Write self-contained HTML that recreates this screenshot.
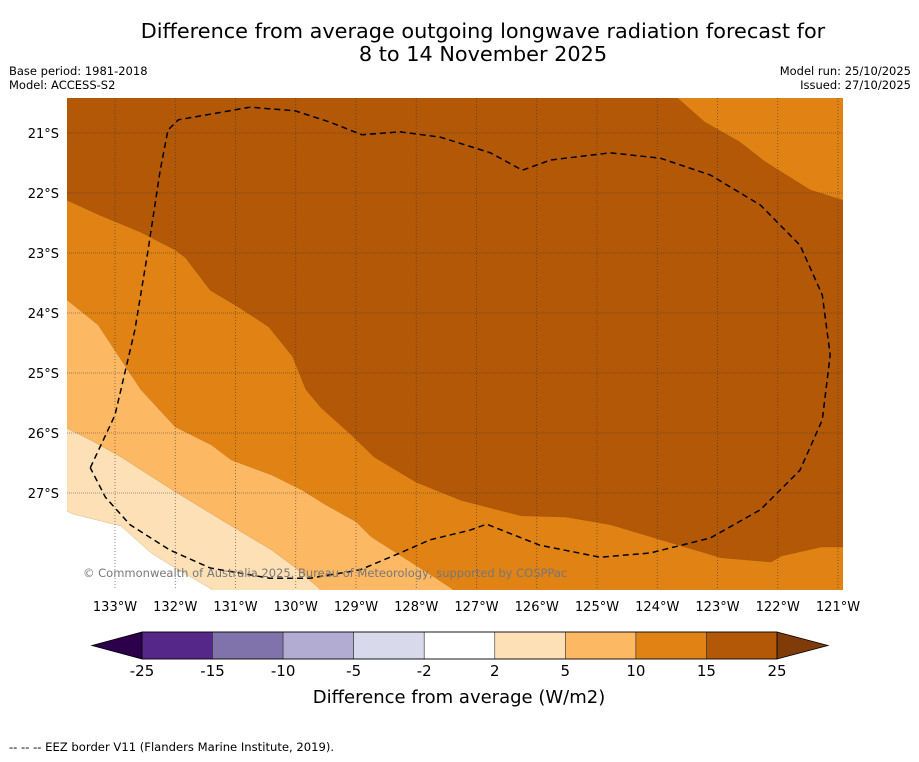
<!DOCTYPE html>
<html><head><meta charset="utf-8">
<style>
body{margin:0;background:#fff;width:919px;height:758px;overflow:hidden;font-family:"DejaVu Sans","Liberation Sans",sans-serif;}
svg text{font-family:"DejaVu Sans","Liberation Sans",sans-serif;}
</style></head>
<body>
<svg id="chart" width="919" height="758" xmlns="http://www.w3.org/2000/svg">
<text x="483" y="38" font-size="20.8" text-anchor="middle">Difference from average outgoing longwave radiation forecast for</text>
<text x="483" y="61" font-size="20.8" text-anchor="middle">8 to 14 November 2025</text>
<text x="9" y="75" font-size="11.5">Base period: 1981-2018</text>
<text x="9" y="89" font-size="11.5">Model: ACCESS-S2</text>
<text x="911" y="75" font-size="11.5" text-anchor="end">Model run: 25/10/2025</text>
<text x="911" y="89" font-size="11.5" text-anchor="end">Issued: 27/10/2025</text>
<defs><clipPath id="mapclip"><rect x="67" y="98" width="776" height="492"/></clipPath></defs>
<rect x="67" y="98" width="776" height="492" fill="#ffffff"/>
<g id="fills" clip-path="url(#mapclip)"></g>
<g id="grid" clip-path="url(#mapclip)"></g>
<g id="eez" clip-path="url(#mapclip)"></g>
<text x="83" y="577" font-size="11.5" fill="#777">© Commonwealth of Australia 2025, Bureau of Meteorology, supported by COSPPac</text>
<g id="axes"></g>
<g id="colorbar"></g>
<text x="459" y="703" font-size="18" text-anchor="middle">Difference from average (W/m2)</text>
<text x="9" y="751" font-size="11.6">--  --  -- EEZ border V11 (Flanders Marine Institute, 2019).</text>
</svg>
<script>
// ---- data ----
const lonTicks=[-133,-132,-131,-130,-129,-128,-127,-126,-125,-124,-123,-122,-121];
const lonLabels=["133°W","132°W","131°W","130°W","129°W","128°W","127°W","126°W","125°W","124°W","123°W","122°W","121°W"];
const latTicks=[-21,-22,-23,-24,-25,-26,-27];
const latLabels=["21°S","22°S","23°S","24°S","25°S","26°S","27°S"];
const cbLevels=["-25","-15","-10","-5","-2","2","5","10","15","25"];
const cbColors=["#542788","#8073ac","#b2abd2","#d8daeb","#ffffff","#fee0b6","#fdb863","#e08214","#b35806"];
// contour boundaries [lon, lat]
const edge2=[[-133.8,-27.3],[-133.7,-27.35],[-132.9,-27.55],[-132.4,-28.0],[-132.0,-28.25],[-131.4,-28.6]];
const edge5=[[-133.8,-25.92],[-133.4,-26.12],[-132.9,-26.4],[-132.0,-26.98],[-131.1,-27.53],[-130.4,-27.95],[-130.0,-28.25],[-129.6,-28.6]];
const edge10=[[-133.8,-23.78],[-133.28,-24.2],[-132.9,-24.78],[-132.57,-25.28],[-132.0,-25.9],[-131.4,-26.2],[-131.07,-26.45],[-130.4,-26.7],[-129.9,-26.95],[-129.5,-27.2],[-129.0,-27.48],[-128.75,-27.73],[-128.25,-28.05],[-127.75,-28.37],[-127.4,-28.6]];
const edge15=[[-133.8,-22.12],[-133.25,-22.37],[-132.58,-22.65],[-132.0,-22.95],[-131.83,-23.08],[-131.42,-23.62],[-130.92,-23.92],[-130.45,-24.23],[-130.05,-24.73],[-129.83,-25.28],[-129.58,-25.58],[-129.08,-26.03],[-128.7,-26.4],[-128.0,-26.82],[-127.26,-27.12],[-126.26,-27.38],[-125.52,-27.4],[-124.77,-27.53],[-123.94,-27.78],[-122.94,-28.08],[-122.11,-28.15],[-121.94,-28.05],[-121.28,-27.9],[-120.9,-27.9]];
const edge15top=[[-123.66,-20.42],[-123.21,-20.82],[-122.63,-21.15],[-122.21,-21.48],[-121.46,-21.95],[-120.92,-22.12],[-120.8,-22.14]];
const eezLine=[[-133.41,-26.58],[-133.0,-25.7],[-132.67,-24.28],[-132.45,-22.95],[-132.25,-21.62],[-132.12,-20.95],[-131.95,-20.78],[-130.76,-20.57],[-130.01,-20.63],[-129.43,-20.82],[-128.9,-21.03],[-128.27,-20.98],[-127.6,-21.07],[-126.77,-21.33],[-126.24,-21.62],[-125.77,-21.45],[-124.78,-21.33],[-123.95,-21.42],[-123.12,-21.7],[-122.29,-22.2],[-121.63,-22.87],[-121.26,-23.7],[-121.13,-24.7],[-121.26,-25.78],[-121.63,-26.62],[-122.29,-27.28],[-123.12,-27.75],[-124.12,-28.0],[-124.95,-28.07],[-125.95,-27.87],[-126.83,-27.52],[-127.11,-27.62],[-127.77,-27.78],[-128.27,-28.0],[-128.93,-28.28],[-129.76,-28.42],[-130.43,-28.42],[-131.42,-28.25],[-132.09,-27.95],[-132.75,-27.53],[-133.16,-27.07],[-133.41,-26.58]];
// ---- axes ----
const X0=67,X1=843,Y0=98,Y1=590;
function xs(lon){return 115+(lon+133)*60.25;}
function ys(lat){return 133+(-21-lat)*60;}
const NS="http://www.w3.org/2000/svg";
function el(tag,attrs,parent){const e=document.createElementNS(NS,tag);for(const k in attrs)e.setAttribute(k,attrs[k]);parent.appendChild(e);return e;}
function pts(a){return a.map(p=>xs(p[0]).toFixed(1)+","+ys(p[1]).toFixed(1)).join(" ");}
function rev(a){return a.slice().reverse();}
const fills=document.getElementById("fills");
function region(name,color,edge){
  const e=edge.map(p=>[xs(p[0]),ys(p[1])]);
  const last=e[e.length-1];
  const poly=[[X0-5,Y0-5],[X1+5,Y0-5],[X1+5,Y1+5],[last[0],Y1+5]].concat(rev(e)).concat([[X0-5,e[0][1]]]);
  const p=el("polygon",{points:poly.map(q=>q.join(",")).join(" "),fill:color,stroke:"#a0601a","stroke-width":"0.4","stroke-opacity":"0.5"},fills);
  
  
}
region("region-2-to-5","#fee0b6",edge2);
region("region-5-to-10","#fdb863",edge5);
region("region-10-to-15","#e08214",edge10);
// dark region
{
  const b=edge15.map(p=>[xs(p[0]),ys(p[1])]);
  const t=edge15top.map(p=>[xs(p[0]),ys(p[1])]);
  const poly=[[X0-5,Y0-5],[t[0][0],Y0-5]].concat(t).concat([[X1+5,t[t.length-1][1]],[X1+5,b[b.length-1][1]]]).concat(rev(b)).concat([[X0-5,b[0][1]]]);
  const p=el("polygon",{points:poly.map(q=>q.join(",")).join(" "),fill:"#b35806",stroke:"#7a3c05","stroke-width":"0.4","stroke-opacity":"0.5"},fills);
  
  
}
const grid=document.getElementById("grid"),axes=document.getElementById("axes");
lonTicks.forEach((v,i)=>{
  const l=el("line",{x1:xs(v),x2:xs(v),y1:Y0,y2:Y1,stroke:"#333","stroke-width":"0.8","stroke-dasharray":"1,2","stroke-opacity":"0.7"},grid);
  
  
  const t=el("text",{x:xs(v),y:611,"font-size":"13","text-anchor":"middle"},axes);
  t.textContent=lonLabels[i];
  
  
});
latTicks.forEach((v,i)=>{
  const l=el("line",{x1:X0,x2:X1,y1:ys(v),y2:ys(v),stroke:"#333","stroke-width":"0.8","stroke-dasharray":"1,1","stroke-opacity":"0.6"},grid);
  
  
  const t=el("text",{x:59,y:ys(v)+5,"font-size":"13","text-anchor":"end"},axes);
  t.textContent=latLabels[i];
  
  
});
const eez=el("polyline",{points:pts(eezLine),fill:"none",stroke:"#000","stroke-width":"1.5","stroke-dasharray":"6,4","stroke-linejoin":"round"},document.getElementById("eez"));


// colorbar
const cb=document.getElementById("colorbar");
const cbX0=142,cbX1=777,cbY=632,cbH=27;
const segW=(cbX1-cbX0)/cbColors.length;
const lo=el("polygon",{points:`92,${cbY+cbH/2} ${cbX0},${cbY} ${cbX0},${cbY+cbH}`,fill:"#2d004b",stroke:"#000","stroke-width":"0.8"},cb);


const hi=el("polygon",{points:`828,${cbY+cbH/2} ${cbX1},${cbY} ${cbX1},${cbY+cbH}`,fill:"#7f3b08",stroke:"#000","stroke-width":"0.8"},cb);


cbColors.forEach((c,i)=>{
  const r=el("rect",{x:cbX0+i*segW,y:cbY,width:segW,height:cbH,fill:c,stroke:"#333","stroke-width":"0.6"},cb);
  
  
});
el("rect",{x:cbX0,y:cbY,width:cbX1-cbX0,height:cbH,fill:"none",stroke:"#000","stroke-width":"0.8"},cb);
cbLevels.forEach((s,i)=>{
  const t=el("text",{x:cbX0+i*segW,y:676,"font-size":"15","text-anchor":"middle"},cb);
  t.textContent=s;
  
  
});
</script>
</body></html>
